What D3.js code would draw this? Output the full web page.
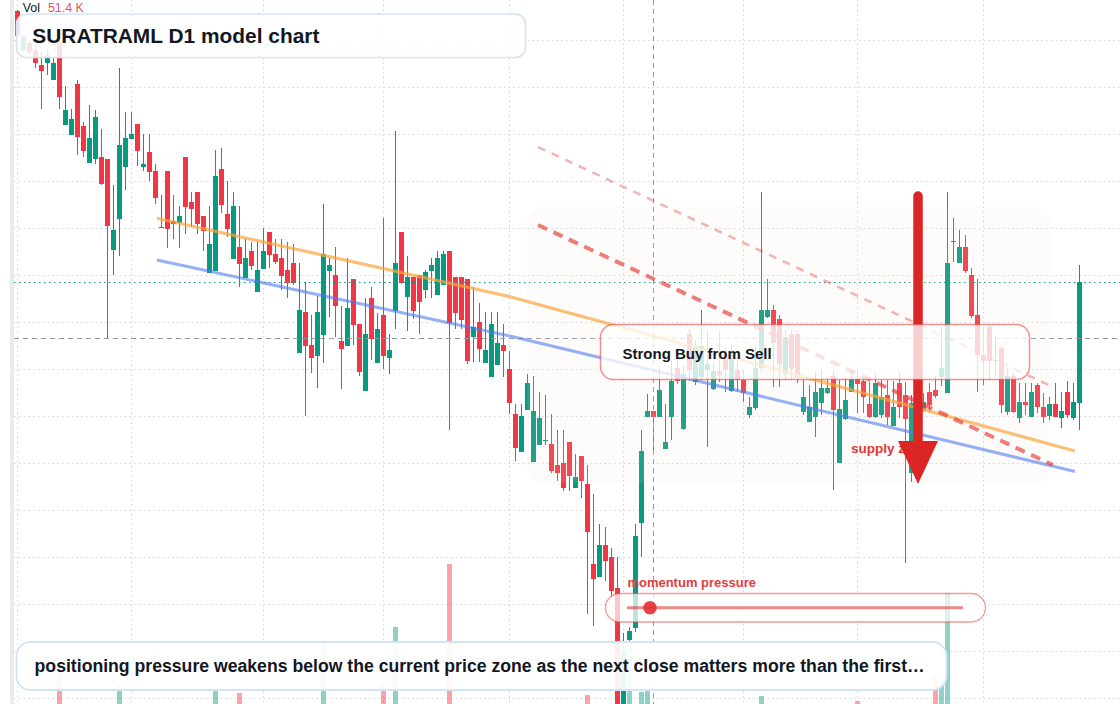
<!DOCTYPE html>
<html><head><meta charset="utf-8">
<script src="https://cdn.jsdelivr.net/npm/d3@7"></script>
<style>html,body{margin:0;padding:0;background:#fff;}svg{display:block;}</style>
</head><body>
<svg id="c" width="1120" height="704"></svg>
<script>
// ---- data (daily candles, price units) ----
const open = [
78.9,75.0,75.7,75.0,73.5,73.7,72.0,75.7,67.5,66.5,
71.6,67.4,63.7,64.1,64.3,64.1,55.0,58.1,63.3,66.1,
67.6,63.3,64.8,62.9,57.2,62.9,57.9,57.7,64.3,59.8,
60.8,58.4,52.7,52.9,63.1,58.6,54.1,55.3,52.2,54.9,
50.8,53.1,56.8,54.6,54.2,53.0,53.7,44.7,48.8,45.5,
44.4,46.5,52.9,52.5,45.9,45.4,52.1,47.6,40.9,50.2,
43.7,48.5,44.2,48.9,56.8,50.3,52.3,52.5,51.0,52.9,
50.5,51.5,54.9,52.3,52.3,52.1,46.3,47.8,43.7,42.3,
43.5,45.5,43.1,38.6,34.8,39.0,33.8,35.5,35.9,35.6,
33.5,33.7,35.8,31.2,34.4,31.6,23.6,22.3,25.5,24.3,
21.2,9.2,16.0,17.2,27.7,38.3,38.9,38.3,35.1,38.3,
43.2,37.1,46.6,41.8,42.3,43.0,41.1,42.9,44.3,40.9,
43.0,42.0,38.5,39.2,43.2,48.3,49.0,48.1,42.6,46.6,
46.6,38.8,37.8,38.3,39.7,40.7,42.4,33.7,38.1,40.8,
42.1,41.9,39.6,38.3,38.5,40.5,37.4,41.7,40.5,32.7,
40.5,39.0,40.8,41.0,42.3,40.7,55.8,53.7,55.3,52.5,
48.5,44.5,47.3,43.9,45.2,38.8,42.4,38.2,39.8,38.3,
41.5,39.3,38.4,39.6,38.2,40.8,38.2,39.7];
const high = [
79.0,76.5,76.0,75.5,74.8,75.0,74.2,76.0,71.4,69.1,
72.0,67.8,69.5,69.0,67.1,64.1,61.5,73.2,68.8,68.8,
67.6,66.6,66.6,63.6,60.5,62.9,60.5,59.4,64.3,60.8,
60.8,58.4,59.4,65.0,65.2,61.9,60.8,59.4,56.1,55.8,
55.8,57.2,56.8,56.1,56.1,55.8,55.6,53.7,51.8,48.5,
50.4,59.6,54.2,55.3,49.4,54.2,52.1,47.6,50.2,51.3,
48.7,58.2,46.6,66.9,56.8,54.4,52.3,52.5,53.0,54.2,
54.9,54.9,54.9,52.3,52.3,52.1,51.3,49.7,48.8,48.8,
48.8,47.6,44.9,39.6,39.6,42.6,42.4,40.8,40.5,38.6,
37.0,37.0,35.8,34.6,34.4,33.5,30.6,27.6,27.3,25.2,
24.3,16.7,17.3,27.6,37.0,40.6,38.9,43.1,39.6,44.0,
44.2,43.4,47.0,46.0,49.0,46.9,43.8,47.0,45.3,45.5,
44.0,43.0,40.3,45.4,60.8,52.1,49.5,48.5,47.0,47.0,
47.0,42.0,41.5,42.8,43.0,42.2,43.0,42.0,42.2,43.0,
43.0,42.3,41.8,42.7,42.0,42.0,41.9,42.8,41.8,40.5,
41.2,40.7,41.7,42.4,47.3,60.8,58.2,57.0,56.5,53.2,
52.1,47.3,47.5,46.5,45.4,43.1,42.6,41.7,41.7,41.7,
41.7,40.7,40.3,41.7,40.8,41.9,41.7,53.5];
const low = [
76.2,74.8,74.5,73.2,69.1,72.5,72.0,69.1,67.5,66.5,
64.5,64.3,63.7,63.6,61.5,46.2,52.5,54.4,61.0,66.1,
63.4,62.9,61.9,59.6,57.2,55.2,56.1,55.2,56.6,57.3,
56.6,54.9,52.7,52.9,58.7,56.3,54.1,51.3,52.2,53.0,
50.8,53.1,53.2,53.6,51.0,50.2,51.5,44.7,38.4,42.7,
41.2,43.7,48.3,46.3,41.1,45.4,45.5,42.4,40.9,44.0,
43.7,43.1,42.6,47.1,51.6,46.9,48.1,46.6,50.2,50.2,
50.5,51.5,37.0,47.1,47.1,43.6,43.8,43.8,43.7,42.3,
43.5,42.3,38.6,33.9,34.8,39.0,33.8,35.5,35.5,32.7,
31.9,30.9,30.9,31.2,30.2,18.6,17.4,22.3,21.9,20.3,
8.8,8.8,15.9,16.8,24.3,38.3,35.0,38.3,35.1,36.0,
41.6,37.0,42.0,41.5,42.0,35.3,41.0,41.8,40.8,40.8,
40.8,39.8,38.2,39.0,42.8,48.2,41.3,41.3,42.0,42.0,
41.7,38.5,37.8,36.3,38.5,40.6,31.0,33.7,38.0,40.8,
38.7,38.7,38.2,38.2,38.2,37.5,37.4,38.2,23.7,31.8,
38.5,38.8,38.8,40.2,41.4,40.7,53.8,53.7,52.7,48.2,
40.8,41.5,42.0,42.5,38.7,38.5,38.7,37.7,38.5,38.3,
38.7,37.7,38.0,38.3,37.2,38.2,38.0,37.0];
const close = [
76.4,76.3,74.8,73.7,72.9,74.5,73.7,70.3,69.0,68.1,
66.3,64.9,66.2,68.3,61.6,57.4,57.0,65.5,66.2,66.6,
64.9,63.6,62.8,60.2,57.3,57.1,57.6,58.4,59.3,59.1,
57.6,56.9,55.6,62.4,59.5,57.1,59.4,53.6,54.2,53.4,
53.0,54.9,54.5,53.8,52.4,51.7,51.7,49.0,45.4,44.2,
48.8,54.6,53.5,49.4,45.1,49.2,47.5,42.8,46.6,46.1,
47.1,44.4,45.0,53.7,51.7,52.3,48.9,49.8,52.8,53.5,
54.2,54.6,47.7,48.7,48.0,43.9,47.3,45.1,45.0,47.6,
45.7,44.9,39.7,35.2,38.4,41.7,38.9,38.2,36.0,32.9,
32.7,31.2,32.4,32.3,31.9,26.8,22.1,25.5,23.9,20.9,
9.2,15.0,16.9,26.4,34.9,38.9,38.3,41.0,35.8,41.9,
41.9,42.6,43.0,45.4,45.4,43.6,42.9,42.5,43.0,44.5,
42.0,40.7,39.3,43.2,49.0,49.0,45.7,43.6,46.3,43.1,
42.3,40.3,39.3,40.8,41.2,41.2,39.0,39.1,40.0,42.1,
41.6,40.3,38.3,41.7,40.3,38.3,39.3,39.3,38.1,39.7,
39.2,39.8,39.5,40.4,43.2,53.7,55.9,55.3,52.9,48.4,
44.5,43.9,43.9,44.0,39.5,42.4,38.8,39.8,39.5,40.8,
39.3,38.3,39.6,38.3,38.9,38.5,39.8,51.8];
// volume in thousands (null = bar not visible in the pane)
const _ = null;
const volume = [
_,_,_,_,_,_,_,89.2,_,_,
_,_,_,_,_,_,_,80.0,_,_,
_,_,_,_,_,_,_,_,_,_,
_,_,_,76.7,_,_,_,72.5,_,_,
_,_,_,_,_,_,_,_,_,_,
_,114.2,_,_,_,_,_,_,_,_,
_,80.0,_,127.5,_,_,_,_,_,_,
_,_,180.0,_,_,_,_,_,_,_,
_,_,_,_,_,_,_,_,_,_,
_,_,_,_,_,70.8,_,_,_,_,
95.0,106.7,113.3,_,73.3,75.0,_,_,_,_,
_,_,_,_,_,_,_,_,_,_,
_,_,_,_,70.0,_,_,_,_,_,
_,_,_,_,_,_,_,_,_,_,
65.8,_,_,_,_,_,_,_,_,_,
_,_,_,86.7,84.2,155.8,_,_,_,_,
_,_,_,_,_,_,_,_,_,_,
_,_,_,_,_,_,_,51.4];
const gridPrices = [76.0,71.3,66.6,61.9,57.2,52.5,47.8,43.1,38.4,33.7,29.0,24.3,19.6,14.9,10.2];
const monthStarts = [0,19,41,61,82,101,121,140,161];
// drawings in (bar index, price)
const orangeTrend = [[23.33,58.17],[82.17,50.33],[176.33,34.9]];
const blueTrend   = [[23.33,54.0],[82.17,46.4],[176.33,32.85]];
const channelUpper = [[86.83,65.3],[172.67,41.3]];
const channelLower = [[86.83,57.5],[172.67,33.5]];
const zoneBox = {i0:85, i1:172.17, pTop:59.3, pBot:31.7};
const arrowDown = {i:150.17, pFrom:60.4, pBase:35.9, pTip:31.6};
const crosshair = {i:106, p:46.2};

// ---- scales ----
const W=1120,H=704;
const UP='#089981', DN='#f23645';
const x = d3.scaleLinear().domain([0,177]).range([17,1079]);
const y = d3.scaleLinear().domain([9.6,80]).range([704,0]);
const v = d3.scaleLinear().domain([0,250]).range([780,480]);
const data = d3.range(close.length).map(i=>({i,o:open[i],h:high[i],l:low[i],c:close[i],vol:volume[i]}));
const FONT = '"Liberation Sans", Arial, Helvetica, sans-serif';

const svg = d3.select('#c');
svg.append('rect').attr('width',W).attr('height',H).attr('fill','#fff');
svg.append('rect').attr('x',10).attr('y',0).attr('width',4).attr('height',H).attr('fill','#ebebeb');

// grid
const grid = svg.append('g').attr('stroke','#d4d6db').attr('stroke-width',1).attr('stroke-dasharray','1.6,3.2');
grid.selectAll('line.h').data(gridPrices).join('line').attr('class','h')
  .attr('x1',14).attr('x2',W).attr('y1',d=>Math.round(y(d))+0.5).attr('y2',d=>Math.round(y(d))+0.5);
grid.selectAll('line.v').data(monthStarts).join('line').attr('class','v')
  .attr('x1',d=>x(d)+0.5).attr('x2',d=>x(d)+0.5).attr('y1',0).attr('y2',H);

// volume
svg.append('g').selectAll('rect').data(data.filter(d=>d.vol!=null)).join('rect')
  .attr('x',d=>x(d.i)-2).attr('width',5)
  .attr('y',d=>v(d.vol)).attr('height',d=>v(0)-v(d.vol))
  .attr('fill',d=>d.c>=d.o?UP:DN).attr('opacity',0.45);

// candles
const cg = svg.append('g');
cg.selectAll('rect.w').data(data).join('rect').attr('class','w')
  .attr('x',d=>x(d.i)).attr('width',1)
  .attr('y',d=>y(d.h)).attr('height',d=>Math.max(1,y(d.l)-y(d.h)))
  .attr('fill',d=>d.c>=d.o?UP:DN);
cg.selectAll('rect.b').data(data).join('rect').attr('class','b')
  .attr('x',d=>x(d.i)-2).attr('width',5)
  .attr('y',d=>y(Math.max(d.o,d.c))).attr('height',d=>Math.max(1,Math.abs(y(d.o)-y(d.c))))
  .attr('fill',d=>d.c>=d.o?UP:DN);

// last price line + crosshair
const lastY = Math.round(y(close[close.length-1]))+0.5;
svg.append('line').attr('x1',14).attr('x2',W).attr('y1',lastY).attr('y2',lastY)
  .attr('stroke',UP).attr('stroke-width',1.2).attr('stroke-dasharray','1.5,3.5');
svg.append('line').attr('x1',x(crosshair.i)+0.5).attr('x2',x(crosshair.i)+0.5).attr('y1',0).attr('y2',H)
  .attr('stroke','#9598a1').attr('stroke-width',1).attr('stroke-dasharray','5,4');
const chY = Math.round(y(crosshair.p))+0.5;
svg.append('line').attr('x1',14).attr('x2',W).attr('y1',chY).attr('y2',chY)
  .attr('stroke','#9598a1').attr('stroke-width',1).attr('stroke-dasharray','5,4');

// faint zone
svg.append('rect').attr('x',x(zoneBox.i0)).attr('y',y(zoneBox.pTop))
  .attr('width',x(zoneBox.i1)-x(zoneBox.i0)).attr('height',y(zoneBox.pBot)-y(zoneBox.pTop))
  .attr('rx',16).attr('fill','#f5e3d6').attr('opacity',0.11);

// trend lines
const ln = d3.line().x(d=>x(d[0])).y(d=>y(d[1]));
svg.append('path').attr('d',ln(orangeTrend)).attr('fill','none').attr('stroke','#f9a43a').attr('stroke-width',3.2).attr('opacity',0.7);
svg.append('path').attr('d',ln(blueTrend)).attr('fill','none').attr('stroke','#4f7cf0').attr('stroke-width',3).attr('opacity',0.6);
svg.append('path').attr('d',ln(channelUpper)).attr('fill','none').attr('stroke','#e53935').attr('stroke-width',2.5).attr('stroke-dasharray','8,7').attr('opacity',0.38);
svg.append('path').attr('d',ln(channelLower)).attr('fill','none').attr('stroke','#e53935').attr('stroke-width',4).attr('stroke-dasharray','10,7').attr('opacity',0.65);

// supply zone label
svg.append('text').attr('x',851).attr('y',452.5).text('supply zone')
  .attr('font-family',FONT).attr('font-weight','bold').attr('font-size',13.5).attr('fill','#e03636');

// big arrow
const ax = x(arrowDown.i);
svg.append('line').attr('x1',ax).attr('x2',ax).attr('y1',y(arrowDown.pFrom)).attr('y2',y(arrowDown.pBase)+4)
  .attr('stroke','#dc2626').attr('stroke-width',9.5).attr('stroke-linecap','round');
svg.append('path').attr('d',`M${ax-20},${y(arrowDown.pBase)} L${ax+20},${y(arrowDown.pBase)} L${ax},${y(arrowDown.pTip)} Z`)
  .attr('fill','#dc2626');

// Strong Buy box
svg.append('rect').attr('x',600.5).attr('y',324.5).attr('width',429).attr('height',55).attr('rx',13)
  .attr('fill','#fff').attr('fill-opacity',0.78).attr('stroke','#e53935').attr('stroke-opacity',0.55).attr('stroke-width',1.5);
svg.append('text').attr('x',622.5).attr('y',359.3).text('Strong Buy from Sell')
  .attr('font-family',FONT).attr('font-weight','bold').attr('font-size',15).attr('fill','#131722');

// momentum pressure slider
svg.append('text').attr('x',627.4).attr('y',586.7).text('momentum pressure')
  .attr('font-family',FONT).attr('font-weight','bold').attr('font-size',13).attr('fill','#e23d3d');
svg.append('rect').attr('x',605.5).attr('y',593.5).attr('width',380).attr('height',28.5).attr('rx',14.25)
  .attr('fill','#fff').attr('fill-opacity',0.72).attr('stroke','#e53935').attr('stroke-opacity',0.5).attr('stroke-width',1.3);
svg.append('line').attr('x1',627).attr('x2',963).attr('y1',607.7).attr('y2',607.7)
  .attr('stroke','#e53935').attr('stroke-opacity',0.6).attr('stroke-width',3);
svg.append('circle').attr('cx',650).attr('cy',607.7).attr('r',6.8).attr('fill','#e03131').attr('fill-opacity',0.9);

// title box
svg.append('rect').attr('x',16.5).attr('y',14).attr('width',509).attr('height',43.5).attr('rx',10)
  .attr('fill','#fff').attr('fill-opacity',0.86).attr('stroke','#d5e3f7').attr('stroke-width',1.6);
svg.append('text').attr('x',32.3).attr('y',42.7).text('SURATRAML D1 model chart')
  .attr('font-family',FONT).attr('font-weight','bold').attr('font-size',20.9).attr('fill','#131722');

// bottom caption box
svg.append('rect').attr('x',16.5).attr('y',642).attr('width',930).attr('height',48).attr('rx',14)
  .attr('fill','#fff').attr('fill-opacity',0.92).attr('stroke','#d5e3f7').attr('stroke-width',1.8);
svg.append('text').attr('x',34.6).attr('y',672.3)
  .text('positioning pressure weakens below the current price zone as the next close matters more than the first\u2026')
  .attr('font-family',FONT).attr('font-weight','bold').attr('font-size',17.65).attr('fill','#131722');

// Vol legend
const vt = svg.append('text').attr('x',22.7).attr('y',12.3).attr('font-family',FONT).attr('font-size',12.4);
vt.append('tspan').text('Vol').attr('fill','#131722');
vt.append('tspan').attr('dx',8).text(volume[volume.length-1].toFixed(1)+' K').attr('fill','#ef4f5a');
</script>
</body></html>
